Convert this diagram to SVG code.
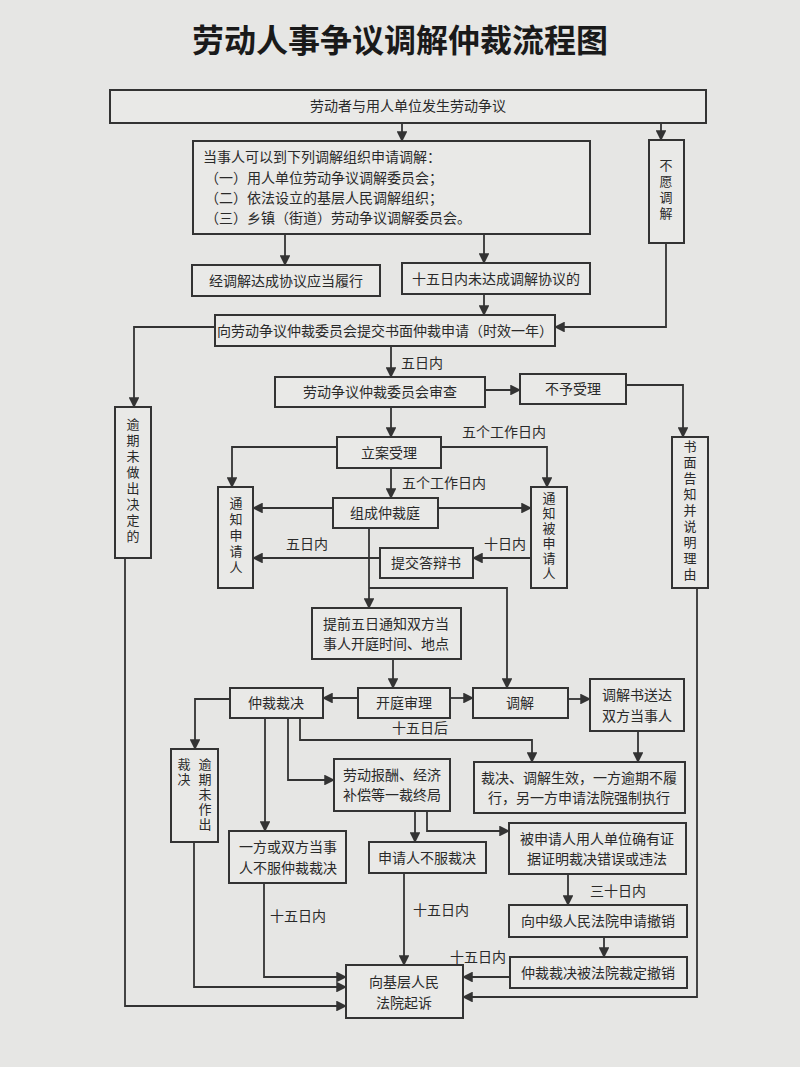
<svg xmlns="http://www.w3.org/2000/svg" width="800" height="1067" viewBox="0 0 800 1067">
<style>
.b{fill:#e9e9e7;stroke:#333;stroke-width:2}
.t{font-family:"Noto Sans CJK SC","Noto Sans",sans-serif;font-size:14px;fill:#2a2a2a}
.c{text-anchor:middle}
.v{font-family:"Noto Sans CJK SC","Noto Sans",sans-serif;font-size:13px;fill:#2a2a2a;writing-mode:vertical-rl;text-anchor:middle;letter-spacing:3px}
.l{fill:none;stroke:#333;stroke-width:1.8}
</style>
<defs><marker id="a" viewBox="0 0 10 10" refX="9" refY="5" markerWidth="6" markerHeight="6" orient="auto"><path d="M0,0L10,5L0,10z" fill="#333"/></marker></defs>
<rect width="800" height="1067" fill="#e6e6e4"/>
<text x="400" y="52" class="t c" style="font-size:32px;font-weight:bold;fill:#1a1a1a">劳动人事争议调解仲裁流程图</text>
<g id="connectors" class="l" marker-end="url(#a)">
<path d="M402,123V141"/>
<path d="M661,123V140"/>
<path d="M285,234V265"/>
<path d="M484,234V263"/>
<path d="M484,294V315"/>
<path d="M666,243V327H555"/>
<path d="M215,327H134V407"/>
<path d="M391,346V377"/>
<path d="M485,390H520"/>
<path d="M626,385H683V437"/>
<path d="M391,407V437"/>
<path d="M337,447H232V487"/>
<path d="M441,447H547V487"/>
<path d="M391,468V498"/>
<path d="M333,508H253"/>
<path d="M438,508H531"/>
<path d="M531,558H473"/>
<path d="M380,558H253"/>
<path d="M369,528V608"/>
<path d="M369,588H507V688"/>
<path d="M393,659V688"/>
<path d="M358,698H323"/>
<path d="M450,698H473"/>
<path d="M568,699H590"/>
<path d="M230,699H195V749"/>
<path d="M300,718V740H532V762"/>
<path d="M638,731V762"/>
<path d="M288,718V780H334"/>
<path d="M265,718V831"/>
<path d="M415,811V842"/>
<path d="M427,811V831H509"/>
<path d="M568,874V905"/>
<path d="M604,937V957"/>
<path d="M510,977H463"/>
<path d="M697,588V997H463"/>
<path d="M404,873V965"/>
<path d="M264,883V977H346"/>
<path d="M194,842V987H346"/>
<path d="M125,558V1006H346"/>
</g>
<g class="t">
<text x="401" y="368">五日内</text>
<text x="462" y="437">五个工作日内</text>
<text x="402" y="488">五个工作日内</text>
<text x="286" y="549">五日内</text>
<text x="484" y="549">十日内</text>
<text x="392" y="733">十五日后</text>
<text x="618" y="896" class="c">三十日内</text>
<text x="450" y="962">十五日内</text>
<text x="298" y="921" class="c">十五日内</text>
<text x="441" y="915" class="c">十五日内</text>
</g>
<g id="n1"><rect class="b" x="110" y="90" width="596" height="33"/><text x="408" y="111" class="t c">劳动者与用人单位发生劳动争议</text></g>
<g id="n2"><rect class="b" x="193" y="141" width="397" height="93"/><text class="t" x="203" y="162">当事人可以到下列调解组织申请调解：</text><text class="t" x="205" y="183">（一）用人单位劳动争议调解委员会；</text><text class="t" x="205" y="203">（二）依法设立的基层人民调解组织；</text><text class="t" x="205" y="223">（三）乡镇（街道）劳动争议调解委员会。</text></g>
<g id="n3"><rect class="b" x="649" y="140" width="35" height="103"/><text class="v" x="666" y="191">不愿调解</text></g>
<g id="n4"><rect class="b" x="192" y="265" width="188" height="31"/><text class="t c" x="286" y="286">经调解达成协议应当履行</text></g>
<g id="n5"><rect class="b" x="402" y="263" width="188" height="31"/><text class="t c" x="496" y="284">十五日内未达成调解协议的</text></g>
<g id="n6"><rect class="b" x="215" y="315" width="340" height="31"/><text class="t c" x="385" y="336">向劳动争议仲裁委员会提交书面仲裁申请（时效一年）</text></g>
<g id="n7"><rect class="b" x="275" y="377" width="210" height="30"/><text class="t c" x="380" y="397">劳动争议仲裁委员会审查</text></g>
<g id="n8"><rect class="b" x="520" y="374" width="106" height="30"/><text class="t c" x="573" y="394">不予受理</text></g>
<g id="n9"><rect class="b" x="115" y="407" width="36" height="151"/><text class="v" x="133" y="482">逾期未做出决定的</text></g>
<g id="n10"><rect class="b" x="672" y="437" width="36" height="151"/><text class="v" x="690" y="512">书面告知并说明理由</text></g>
<g id="n11"><rect class="b" x="337" y="437" width="104" height="31"/><text class="t c" x="389" y="458">立案受理</text></g>
<g id="n12"><rect class="b" x="218" y="487" width="35" height="101"/><text class="v" x="236" y="537">通知申请人</text></g>
<g id="n13"><rect class="b" x="531" y="487" width="36" height="101"/><text class="v" x="549" y="537" style="letter-spacing:2px">通知被申请人</text></g>
<g id="n14"><rect class="b" x="333" y="498" width="105" height="30"/><text class="t c" x="385" y="518">组成仲裁庭</text></g>
<g id="n15"><rect class="b" x="380" y="548" width="93" height="30"/><text class="t c" x="426" y="568">提交答辩书</text></g>
<g id="n16"><rect class="b" x="312" y="608" width="149" height="51"/><text class="t c" x="386" y="629">提前五日通知双方当</text><text class="t c" x="386" y="649">事人开庭时间、地点</text></g>
<g id="n17"><rect class="b" x="230" y="688" width="93" height="30"/><text class="t c" x="276" y="708">仲裁裁决</text></g>
<g id="n18"><rect class="b" x="358" y="688" width="92" height="30"/><text class="t c" x="404" y="708">开庭审理</text></g>
<g id="n19"><rect class="b" x="473" y="688" width="95" height="30"/><text class="t c" x="520" y="708">调解</text></g>
<g id="n20"><rect class="b" x="590" y="679" width="94" height="52"/><text class="t c" x="637" y="700">调解书送达</text><text class="t c" x="637" y="721">双方当事人</text></g>
<g id="n21"><rect class="b" x="171" y="749" width="47" height="93"/><text class="v" x="184" y="773" style="letter-spacing:2px">裁决</text><text class="v" x="205" y="795" style="letter-spacing:2px">逾期未作出</text></g>
<g id="n22"><rect class="b" x="334" y="759" width="116" height="52"/><text class="t c" x="392" y="780">劳动报酬、经济</text><text class="t c" x="392" y="800">补偿等一裁终局</text></g>
<g id="n23"><rect class="b" x="474" y="762" width="211" height="51"/><text class="t c" x="579" y="783">裁决、调解生效，一方逾期不履</text><text class="t c" x="579" y="803">行，另一方申请法院强制执行</text></g>
<g id="n24"><rect class="b" x="229" y="831" width="117" height="52"/><text class="t c" x="288" y="852">一方或双方当事</text><text class="t c" x="288" y="873">人不服仲裁裁决</text></g>
<g id="n25"><rect class="b" x="369" y="842" width="117" height="31"/><text class="t c" x="427" y="863">申请人不服裁决</text></g>
<g id="n26"><rect class="b" x="509" y="823" width="177" height="51"/><text class="t c" x="597" y="844">被申请人用人单位确有证</text><text class="t c" x="597" y="864">据证明裁决错误或违法</text></g>
<g id="n27"><rect class="b" x="509" y="905" width="178" height="32"/><text class="t c" x="598" y="926">向中级人民法院申请撤销</text></g>
<g id="n28"><rect class="b" x="510" y="957" width="177" height="31"/><text class="t c" x="598" y="978">仲裁裁决被法院裁定撤销</text></g>
<g id="n29"><rect class="b" x="346" y="965" width="117" height="53"/><text class="t c" x="404" y="987">向基层人民</text><text class="t c" x="404" y="1008">法院起诉</text></g>
</svg>
